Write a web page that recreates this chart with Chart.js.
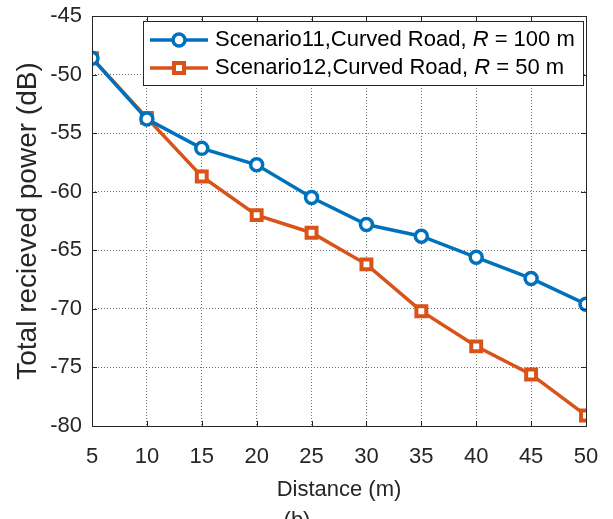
<!DOCTYPE html>
<html>
<head>
    <title>Received Power vs Distance</title>
    <script src="https://cdn.jsdelivr.net/npm/chart.js"></script>
    <style>
        html, body { margin: 0; padding: 0; background: #fff; }
        #wrap { width: 613px; height: 519px; position: relative; }
    </style>
</head>
<body>
    <div id="wrap"><canvas id="powerChart"></canvas></div>

    <script>
    // Distance samples (m) and total received power for each scenario (dB)
    const distances = [5, 10, 15, 20, 25, 30, 35, 40, 45, 50];
    const curved100 = [-48.6, -53.8, -56.3, -57.7, -60.5, -62.8, -63.8, -65.6, -67.4, -69.6];
    const curved50 = [-48.6, -53.7, -58.7, -62.0, -63.5, -66.2, -70.2, -73.2, -75.6, -79.1];
    const yTicks = [-45, -50, -55, -60, -65, -70, -75, -80];

    const blue = '#0072BD';
    const orange = '#D95319';
    const ink = '#262626';
    const font = '"Liberation Sans", Arial, Helvetica, sans-serif';

    const legendItems = [
        { label: 'Scenario11,Curved Road, ', rest: ' = 100 m', color: blue, style: 'circle' },
        { label: 'Scenario12,Curved Road, ', rest: ' = 50 m', color: orange, style: 'rect' }
    ];

    // Box around the axes, inward tick marks, in-plot legend and sub-caption
    const axesBox = {
        id: 'axesBox',
        afterDatasetsDraw(chart) {
            const { ctx, chartArea: a, scales } = chart;
            ctx.save();
            ctx.strokeStyle = ink;
            ctx.lineWidth = 1;
            ctx.strokeRect(Math.round(a.left) + 0.5, Math.round(a.top) + 0.5,
                Math.round(a.right - a.left), Math.round(a.bottom - a.top));

            ctx.beginPath();
            distances.forEach(d => {
                const x = Math.round(scales.x.getPixelForValue(d)) + 0.5;
                ctx.moveTo(x, a.bottom); ctx.lineTo(x, a.bottom - 5);
                ctx.moveTo(x, a.top); ctx.lineTo(x, a.top + 5);
            });
            yTicks.forEach(v => {
                const y = Math.round(scales.y.getPixelForValue(v)) + 0.5;
                ctx.moveTo(a.left, y); ctx.lineTo(a.left + 5, y);
                ctx.moveTo(a.right, y); ctx.lineTo(a.right - 5, y);
            });
            ctx.stroke();

            // legend
            const bx = 143, by = 21, bw = 440, bh = 64;
            ctx.fillStyle = '#fff';
            ctx.fillRect(bx, by, bw, bh);
            ctx.strokeStyle = ink;
            ctx.strokeRect(bx + 0.5, by + 0.5, bw, bh);
            legendItems.forEach((it, i) => {
                const cy = by + 19 + i * 28;
                ctx.strokeStyle = it.color;
                ctx.lineWidth = 3.5;
                ctx.beginPath();
                ctx.moveTo(150, cy); ctx.lineTo(208, cy);
                ctx.stroke();
                ctx.fillStyle = '#fff';
                ctx.beginPath();
                if (it.style === 'circle') {
                    ctx.arc(179, cy, 6, 0, Math.PI * 2);
                    ctx.fill();
                    ctx.stroke();
                } else {
                    ctx.lineWidth = 4;
                    ctx.rect(174, cy - 5, 10, 10);
                    ctx.fill();
                    ctx.stroke();
                }

                ctx.fillStyle = '#000';
                ctx.textBaseline = 'middle';
                ctx.font = '22px ' + font;
                let x = 215;
                ctx.fillText(it.label, x, cy);
                x += ctx.measureText(it.label).width;
                ctx.font = 'italic 22px ' + font;
                ctx.fillText('R', x, cy);
                x += ctx.measureText('R').width;
                ctx.font = '22px ' + font;
                ctx.fillText(it.rest, x, cy);
            });

            ctx.fillStyle = ink;
            ctx.font = '22px ' + font;
            ctx.textAlign = 'center';
            ctx.textBaseline = 'top';
            ctx.fillText('(b)', 297, 510);
            ctx.restore();
        }
    };

    new Chart(document.getElementById('powerChart'), {
        type: 'line',
        data: {
            labels: distances,
            datasets: [{
                label: 'Scenario11,Curved Road, R = 100 m',
                data: curved100,
                borderColor: blue,
                backgroundColor: '#fff',
                pointBackgroundColor: '#fff',
                pointBorderColor: blue,
                pointStyle: 'circle',
                pointRadius: 6,
                pointBorderWidth: 3.5,
                borderWidth: 3.5,
                tension: 0
            }, {
                label: 'Scenario12,Curved Road, R = 50 m',
                data: curved50,
                borderColor: orange,
                backgroundColor: '#fff',
                pointBackgroundColor: '#fff',
                pointBorderColor: orange,
                pointStyle: 'rect',
                pointRadius: 7,
                pointBorderWidth: 4,
                borderWidth: 3.5,
                tension: 0
            }]
        },
        options: {
            responsive: true,
            maintainAspectRatio: false,
            animation: false,
            layout: { padding: { top: 16, right: 27, left: 0, bottom: 0 } },
            plugins: {
                legend: { display: false },
                tooltip: { enabled: false }
            },
            scales: {
                x: {
                    type: 'linear',
                    min: 5,
                    max: 50,
                    afterBuildTicks(scale) { scale.ticks = distances.map(v => ({ value: v })); },
                    afterFit(scale) {
                        scale.height = 93;
                        scale.paddingLeft = 0;
                        scale.paddingRight = 0;
                    },
                    grid: { color: '#6e6e6e', drawTicks: false },
                    border: { display: false, dash: [1, 2] },
                    ticks: { color: ink, font: { family: font, size: 22 }, padding: 18, maxRotation: 0 },
                    title: {
                        display: true,
                        text: 'Distance (m)',
                        color: ink,
                        font: { family: font, size: 22 },
                        padding: { top: 4, bottom: 16 }
                    }
                },
                y: {
                    min: -80,
                    max: -45,
                    afterBuildTicks(scale) { scale.ticks = yTicks.map(v => ({ value: v })); },
                    afterFit(scale) {
                        scale.width = 92;
                        scale.paddingTop = 0;
                        scale.paddingBottom = 0;
                    },
                    grid: { color: '#6e6e6e', drawTicks: false },
                    border: { display: false, dash: [1, 2] },
                    ticks: { color: ink, font: { family: font, size: 22 }, padding: 10 },
                    title: {
                        display: true,
                        text: 'Total recieved power (dB)',
                        color: ink,
                        font: { family: font, size: 28 },
                        padding: { top: 11, bottom: 0 }
                    }
                }
            }
        },
        plugins: [axesBox]
    });
    </script>
</body>
</html>
